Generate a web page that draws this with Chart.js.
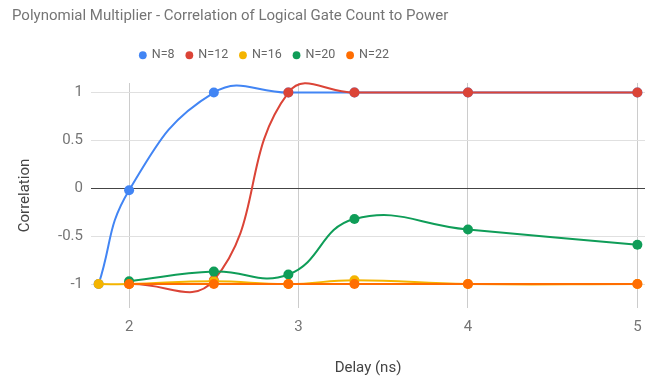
<!DOCTYPE html>
<html>
<head>
<meta charset="utf-8">
<script src="https://cdn.jsdelivr.net/npm/chart.js@4/dist/chart.umd.min.js"></script>
<style>
  html, body { margin: 0; padding: 0; background: #fff; }
  #wrap { width: 655px; height: 381px; }
</style>
</head>
<body>
<div id="wrap"><canvas id="myChart" width="655" height="381"></canvas></div>
<script>
// delays (ns)
const delays = [1.82, 2, 2.5, 2.94, 3.33, 4, 5];

// correlation per N
const n8  = [-1, -0.02, 1, 1, 1, 1, 1];
const n12 = [null, -1, -0.96, 1, 1, 1, 1];
const n16 = [-1, -1, -0.97, -1, -0.96, -1, -1];
const n20 = [null, -0.97, -0.87, -0.9, -0.32, -0.43, -0.59];
const n22 = [null, -1, -1, -1, -1, -1, -1];

const seriesNames = ['N=8', 'N=12', 'N=16', 'N=20', 'N=22'];
const seriesValues = [n8, n12, n16, n20, n22];
const colors = ['#4285F4', '#DB4437', '#F4B400', '#0F9D58', '#FF6D01'];

const xTicks = [2, 3, 4, 5];
const yTicks = [-1, -0.5, 0, 0.5, 1];

function toPoints(vals) {
  return delays.map(function (d, i) { return { x: d, y: vals[i] }; });
}

const datasets = seriesNames.map(function (name, i) {
  return {
    label: name,
    data: toPoints(seriesValues[i]),
    borderColor: colors[i],
    backgroundColor: colors[i],
    borderWidth: 2,
    pointRadius: 5,
    pointHoverRadius: 5,
    pointBorderWidth: 0,
    tension: 0.45,
    capBezierPoints: false,
    clip: { left: 8, right: 8, top: 2, bottom: 8 },
    order: seriesNames.length - i   // last series drawn on top
  };
});

// keep legend where the reference has it
const legendTweak = {
  id: 'legendTweak',
  beforeInit(chart) {
    const lg = chart.legend;
    const fit = lg.fit;
    lg.fit = function () {
      fit.bind(lg)();
      this.height = 54;
    };
    const draw = lg.draw;
    lg.draw = function () {
      const ctx = chart.ctx;
      ctx.save();
      ctx.translate(-64, 8);
      draw.bind(lg)();
      ctx.restore();
    };
  }
};

const config = {
  type: 'line',
  data: { datasets: datasets },
  options: {
    responsive: false,
    animation: false,
    layout: { padding: { left: 12, right: 10, top: 0, bottom: 0 } },
    plugins: {
      title: {
        display: true,
        text: 'Polynomial Multiplier - Correlation of Logical Gate Count to Power',
        align: 'start',
        color: '#757575',
        font: { family: 'Roboto', size: 15, weight: 'normal' },
        padding: { top: 7, bottom: 4 }
      },
      legend: {
        position: 'top',
        labels: {
          usePointStyle: true,
          pointStyle: 'circle',
          boxWidth: 5.5,
          boxHeight: 5.5,
          padding: 12,
          color: '#666',
          font: { family: 'Roboto', size: 12.5 },
          sort: function (a, b) { return a.datasetIndex - b.datasetIndex; }
        }
      },
      tooltip: { enabled: false }
    },
    scales: {
      x: {
        type: 'linear',
        min: 1.775,
        max: 5.045,
        afterBuildTicks: function (scale) {
          scale.ticks = xTicks.map(function (v) { return { value: v }; });
        },
        afterFit: function (scale) { scale.height = 73; },
        ticks: {
          color: '#757575',
          font: { family: 'Roboto', size: 15 },
          padding: 10,
          maxRotation: 0,
          callback: function (v) { return String(v); }
        },
        grid: { color: '#cccccc', drawTicks: false },
        border: { display: false },
        title: {
          display: true,
          text: 'Delay (ns)',
          color: '#444',
          font: { family: 'Roboto', size: 15 },
          padding: { top: 0, bottom: 4 }
        }
      },
      y: {
        min: -1.25,
        max: 1.1,
        afterBuildTicks: function (scale) {
          scale.ticks = yTicks.map(function (v) { return { value: v }; });
        },
        afterFit: function (scale) { scale.width = 79; },
        ticks: {
          color: '#757575',
          font: { family: 'Roboto', size: 15 },
          padding: 8,
          callback: function (v) { return String(v); }
        },
        grid: {
          drawTicks: false,
          color: function (c) { return c.tick && c.tick.value === 0 ? '#444444' : '#e0e0e0'; }
        },
        border: { display: false },
        title: {
          display: true,
          text: 'Correlation',
          color: '#444',
          font: { family: 'Roboto', size: 15 },
          padding: { top: 4, bottom: 0 }
        }
      }
    }
  },
  plugins: [legendTweak]
};

const myChart = new Chart(document.getElementById('myChart'), config);
</script>
</body>
</html>
